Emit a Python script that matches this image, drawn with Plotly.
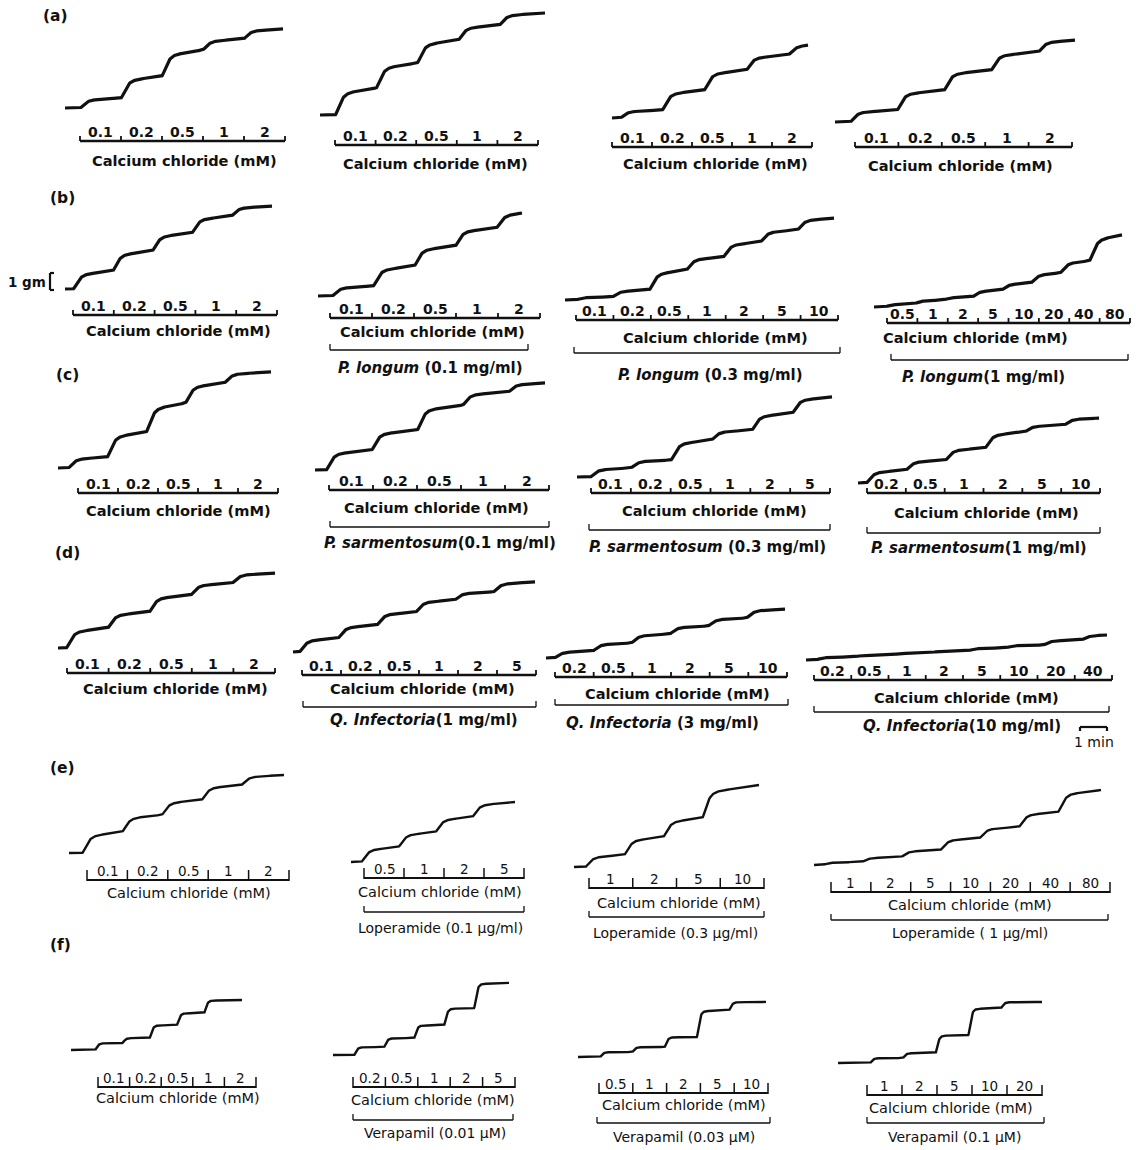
import numpy as np
import plotly.graph_objects as go

GM_PX = 17.0  # vertical recording scale: pixels per gm of tension

# ---------------- data ----------------
ROW_LABELS = ["(a)", "(b)", "(c)", "(d)", "(e)", "(f)"]

# CaCl2 concentrations (mM) added cumulatively under each trace
CA_STD = ["0.1", "0.2", "0.5", "1", "2"]
CA_B3 = ["0.1", "0.2", "0.5", "1", "2", "5", "10"]
CA_B4 = ["0.5", "1", "2", "5", "10", "20", "40", "80"]
CA_C3 = ["0.1", "0.2", "0.5", "1", "2", "5"]
CA_C4 = ["0.2", "0.5", "1", "2", "5", "10"]
CA_D2 = ["0.1", "0.2", "0.5", "1", "2", "5"]
CA_D3 = ["0.2", "0.5", "1", "2", "5", "10"]
CA_D4 = ["0.2", "0.5", "1", "2", "5", "10", "20", "40"]
CA_E2 = ["0.5", "1", "2", "5"]
CA_E3 = ["1", "2", "5", "10"]
CA_E4 = ["1", "2", "5", "10", "20", "40", "80"]
CA_F2 = ["0.2", "0.5", "1", "2", "5"]
CA_F3 = ["0.5", "1", "2", "5", "10"]
CA_F4 = ["1", "2", "5", "10", "20"]

# contraction (gm above baseline) reached after each CaCl2 addition
A1_GM = [0.59, 1.88, 3.41, 4.06, 4.65]
A2_GM = [1.59, 3.06, 4.41, 5.29, 6.00]
A3_GM = [0.47, 1.65, 2.82, 3.71, 4.29]
A4_GM = [0.71, 1.88, 3.06, 4.12, 4.82]
B1_GM = [1.06, 2.24, 3.29, 4.29, 4.88]
B2_GM = [0.59, 1.76, 2.94, 4.00, 4.88]
B3_GM = [0.18, 0.59, 1.76, 2.53, 3.41, 4.12, 4.82]
B4_GM = [0.18, 0.41, 0.59, 1.00, 1.41, 2.00, 2.71, 4.24]
C1_GM = [0.65, 2.12, 3.82, 5.00, 5.65]
C2_GM = [1.18, 2.35, 3.82, 4.59, 5.12]
C3_GM = [0.53, 1.00, 2.18, 2.76, 3.76, 4.71]
C4_GM = [0.76, 1.35, 2.06, 3.00, 3.41, 3.82]
D1_GM = [1.18, 2.12, 3.12, 3.82, 4.41]
D2_GM = [0.82, 1.59, 2.35, 3.06, 3.53, 4.12]
D3_GM = [0.41, 0.88, 1.41, 1.88, 2.35, 2.88]
D4_GM = [0.18, 0.29, 0.41, 0.53, 0.71, 0.88, 1.18, 1.47]
E1_GM = [1.24, 2.24, 3.12, 4.00, 4.59]
E2_GM = [0.88, 1.76, 2.65, 3.53]
E3_GM = [0.71, 1.76, 2.88, 4.82]
E4_GM = [0.18, 0.47, 0.88, 1.59, 2.24, 3.12, 4.41]
F1_GM = [0.41, 0.71, 1.47, 2.18, 2.94]
F2_GM = [0.47, 1.00, 1.76, 2.76, 4.24]
F3_GM = [0.29, 0.59, 1.18, 2.76, 3.24]
F4_GM = [0.29, 0.59, 1.65, 3.24, 3.59]

# pretreatment labels
DRUG_B = ["<i>P. longum</i> (0.1 mg/ml)", "<i>P. longum</i> (0.3 mg/ml)", "<i>P. longum</i>(1 mg/ml)"]
DRUG_C = ["<i>P. sarmentosum</i>(0.1 mg/ml)", "<i>P. sarmentosum</i> (0.3 mg/ml)", "<i>P. sarmentosum</i>(1 mg/ml)"]
DRUG_D = ["<i>Q. Infectoria</i>(1 mg/ml)", "<i>Q. Infectoria</i> (3 mg/ml)", "<i>Q. Infectoria</i>(10 mg/ml)"]
DRUG_E = ["Loperamide (0.1 \u03bcg/ml)", "Loperamide (0.3 \u03bcg/ml)", "Loperamide ( 1 \u03bcg/ml)"]
DRUG_F = ["Verapamil (0.01 \u03bcM)", "Verapamil (0.03 \u03bcM)", "Verapamil (0.1 \u03bcM)"]

AXIS_TITLE = "Calcium chloride (mM)"

# ---------------- layout of the panels (page pixels) ----------------
# trace: start x, first step x, step spacing, end x, baseline y
# bracket: x0, x1, y ; title centre ; drug bracket x0, x1, y and label centre
def panel(row, conc, gm, trace, bracket, title, drug=None, drug_geo=None):
    return dict(row=row, conc=conc, gm=gm, trace=trace, bracket=bracket,
                title=title, drug=drug, drug_geo=drug_geo)

PANELS = [
    panel(0, CA_STD, A1_GM, (65, 80, 40.8, 283, 108), (80, 285, 141), (184, 160)),
    panel(0, CA_STD, A2_GM, (320, 335, 41.0, 545, 115), (335, 538, 145), (435, 163)),
    panel(0, CA_STD, A3_GM, (612, 620, 42.0, 808, 118), (612, 812, 147), (715, 163)),
    panel(0, CA_STD, A4_GM, (835, 850, 47.0, 1075, 122), (855, 1072, 147), (960, 165)),

    panel(1, CA_STD, B1_GM, (65, 73, 39.5, 272, 289), (73, 277, 315), (178, 330)),
    panel(1, CA_STD, B2_GM, (318, 332, 41.0, 522, 296), (330, 540, 318), (432, 331),
          DRUG_B[0], (330, 528, 350, 430, 368)),
    panel(1, CA_B3, B3_GM, (565, 575, 37.0, 834, 300), (576, 838, 320), (715, 337),
          DRUG_B[1], (574, 840, 353, 710, 375)),
    panel(1, CA_B4, B4_GM, (874, 884, 29.3, 1122, 307), (887, 1130, 323), (975, 337),
          DRUG_B[2], (891, 1128, 360, 983, 377)),

    panel(2, CA_STD, C1_GM, (58, 68, 39.0, 271, 468), (78, 278, 493), (178, 510)),
    panel(2, CA_STD, C2_GM, (315, 326, 45.5, 545, 470), (329, 549, 490), (436, 507),
          DRUG_C[0], (330, 549, 527, 440, 543)),
    panel(2, CA_C3, C3_GM, (577, 590, 40.4, 832, 477), (591, 830, 493), (714, 510),
          DRUG_C[1], (589, 830, 530, 707, 547)),
    panel(2, CA_C4, C4_GM, (858, 866, 39.6, 1099, 483), (867, 1100, 493), (986, 512),
          DRUG_C[2], (867, 1100, 533, 979, 548)),

    panel(3, CA_STD, D1_GM, (58, 66, 41.5, 275, 648), (67, 275, 673), (175, 688)),
    panel(3, CA_D2, D2_GM, (293, 299, 38.8, 535, 652), (302, 536, 675), (422, 688),
          DRUG_D[0], (303, 536, 707, 424, 720)),
    panel(3, CA_D3, D3_GM, (546, 554, 38.4, 785, 658), (555, 787, 677), (677, 693),
          DRUG_D[1], (555, 788, 705, 662, 723)),
    panel(3, CA_D4, D4_GM, (806, 815, 38.0, 1107, 660), (814, 1112, 680), (966, 697),
          DRUG_D[2], (814, 1109, 712, 962, 726)),

    panel(4, CA_STD, E1_GM, (69, 82, 39.75, 284, 853), (87, 289, 880), (189, 893)),
    panel(4, CA_E2, E2_GM, (351, 361, 37.0, 515, 862), (364, 524, 878), (440, 892),
          DRUG_E[0], (364, 524, 912, 440, 928)),
    panel(4, CA_E3, E3_GM, (574, 585, 39.0, 759, 867), (589, 764, 888), (679, 903),
          DRUG_E[1], (589, 764, 917, 675, 933)),
    panel(4, CA_E4, E4_GM, (814, 822, 39.3, 1101, 865), (831, 1110, 892), (970, 905),
          DRUG_E[2], (831, 1108, 920, 970, 933)),

    panel(5, CA_STD, F1_GM, (71, 95, 27.25, 242, 1050), (98, 256, 1087), (178, 1098)),
    panel(5, CA_F2, F2_GM, (333, 354, 30.0, 509, 1055), (353, 515, 1087), (433, 1100),
          DRUG_F[0], (353, 513, 1120, 435, 1133)),
    panel(5, CA_F3, F3_GM, (578, 600, 32.25, 766, 1057), (599, 768, 1093), (684, 1105),
          DRUG_F[1], (597, 770, 1123, 684, 1137)),
    panel(5, CA_F4, F4_GM, (838, 870, 32.75, 1042, 1063), (867, 1042, 1095), (951, 1108),
          DRUG_F[2], (867, 1044, 1123, 954, 1137)),
]

ROW_LABEL_POS = [(55, 16), (62, 198), (67, 375), (67, 553), (62, 768), (60, 945)]

FONT = "DejaVu Sans"
INK = "#111111"


def staircase(trace, gm, sharp):
    """Cumulative concentration-response recording: a rounded rise after each
    addition that settles into a slowly creeping plateau."""
    xs, step0, dx, xe, base = trace
    levels = np.asarray(gm, dtype=float) * GM_PX
    n = len(levels)
    steps = step0 + dx * np.arange(n)
    tau, creep = (1.3, 0.05) if sharp else (2.8, 0.25)
    px = [xs, steps[0]]
    py = [base, base]
    prev = 0.0
    for i in range(n):
        end = steps[i + 1] if i + 1 < n else xe
        seg = max(end - steps[i], 1.0)
        d = np.linspace(0, seg, 80)
        rise = 1 - (1 + d / tau) * np.exp(-d / tau)
        f = (1 - creep) * rise + creep * d / seg
        f /= f[-1]
        px.extend((steps[i] + d).tolist())
        py.extend((base - (prev + (levels[i] - prev) * f)).tolist())
        prev = levels[i]
    return px, py


fig = go.Figure()
annotations = []


def add_segments(segs, width):
    xs, ys = [], []
    for (x0, y0, x1, y1) in segs:
        xs += [x0, x1, None]
        ys += [y0, y1, None]
    fig.add_trace(go.Scatter(x=xs, y=ys, mode="lines", hoverinfo="skip",
                             line=dict(color=INK, width=width), showlegend=False))


def text(x, y, s, size, bold=False, yanchor="middle", xanchor="center"):
    annotations.append(dict(x=x, y=y, xref="x", yref="y", text=(f"<b>{s}</b>" if bold else s),
                            showarrow=False, xanchor=xanchor, yanchor=yanchor, borderpad=0,
                            font=dict(family=FONT, size=size, color=INK)))


heavy_lines, heavy_ticks, light_lines, light_ticks, drug_lines = [], [], [], [], []

for p in PANELS:
    heavy = p["row"] < 4
    px, py = staircase(p["trace"], p["gm"], sharp=(p["row"] == 5))
    fig.add_trace(go.Scatter(x=px, y=py, mode="lines", hoverinfo="skip", showlegend=False,
                             line=dict(color=INK, width=3.2 if heavy else 2.4)))

    bx0, bx1, by = p["bracket"]
    n = len(p["conc"])
    ticks = np.linspace(bx0, bx1, n + 1)
    if heavy:
        heavy_lines.append((bx0, by, bx1, by))
        heavy_ticks += [(t, by, t, by - 5) for t in ticks]
    else:
        light_lines.append((bx0, by, bx1, by))
        light_ticks += [(t, by + 1, t, by - 10) for t in ticks]
    for i, c in enumerate(p["conc"]):
        text((ticks[i] + ticks[i + 1]) / 2, by, c, 14 if heavy else 13.5,
             bold=heavy, yanchor="bottom")

    tx, ty = p["title"]
    text(tx, ty, AXIS_TITLE, 14.6 if heavy else 14.5, bold=heavy)

    if p["drug"]:
        dx0, dx1, dy, dtx, dty = p["drug_geo"]
        drug_lines += [(dx0, dy, dx1, dy), (dx0, dy, dx0, dy - 6), (dx1, dy, dx1, dy - 6)]
        text(dtx, dty, p["drug"], 15 if heavy else 14, bold=heavy)

add_segments(heavy_lines, 2.6)
add_segments(heavy_ticks, 1.8)
add_segments(light_lines, 2.0)
add_segments(light_ticks, 1.5)
add_segments(drug_lines, 1.3)

# 1 gm calibration bar
cal_x, cal_y = 50, 273
add_segments([(cal_x, cal_y, cal_x, cal_y + GM_PX),
              (cal_x, cal_y, cal_x + 4, cal_y),
              (cal_x, cal_y + GM_PX, cal_x + 4, cal_y + GM_PX)], 2.2)
text(cal_x - 3, cal_y + GM_PX / 2, "1 gm", 13.5, bold=True, xanchor="right")

# 1 min time bar
add_segments([(1080, 727, 1107, 727), (1080, 727, 1080, 731), (1107, 727, 1107, 731)], 2.2)
text(1094, 742, "1 min", 14)

for lab, (x, y) in zip(ROW_LABELS, ROW_LABEL_POS):
    text(x, y, lab, 15.5, bold=True)

fig.update_layout(
    width=1136, height=1150,
    margin=dict(l=0, r=0, t=0, b=0),
    paper_bgcolor="white", plot_bgcolor="white",
    xaxis=dict(range=[0, 1136], visible=False, fixedrange=True),
    yaxis=dict(range=[1150, 0], visible=False, fixedrange=True),
    annotations=annotations,
    showlegend=False,
)

fig.write_html("out.html")
